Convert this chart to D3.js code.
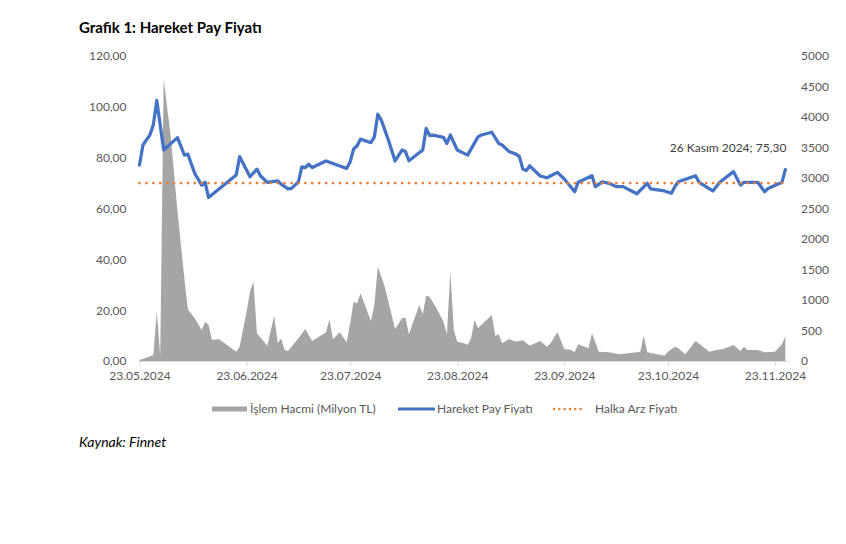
<!DOCTYPE html>
<html><head><meta charset="utf-8">
<script src="https://cdn.jsdelivr.net/npm/d3@7/dist/d3.min.js"></script>
<style>
html,body{margin:0;padding:0;background:#fff;}
svg{display:block;font-family:Lato,"Open Sans",sans-serif;}
</style></head>
<body>
<svg id="chart" width="846" height="544"></svg>
<script>
// ---- DATA ----
const priceDates = ["2024-05-23","2024-05-24","2024-05-26","2024-05-27","2024-05-28","2024-05-30","2024-06-03","2024-06-05","2024-06-06","2024-06-08","2024-06-10","2024-06-11","2024-06-12","2024-06-20","2024-06-21","2024-06-24","2024-06-26","2024-06-27","2024-06-29","2024-07-02","2024-07-03","2024-07-05","2024-07-06","2024-07-08","2024-07-09","2024-07-10","2024-07-11","2024-07-12","2024-07-16","2024-07-20","2024-07-22","2024-07-23","2024-07-24","2024-07-25","2024-07-26","2024-07-29","2024-07-30","2024-07-31","2024-08-01","2024-08-03","2024-08-05","2024-08-07","2024-08-08","2024-08-09","2024-08-13","2024-08-14","2024-08-15","2024-08-16","2024-08-19","2024-08-20","2024-08-21","2024-08-23","2024-08-26","2024-08-29","2024-08-30","2024-09-02","2024-09-04","2024-09-05","2024-09-07","2024-09-09","2024-09-10","2024-09-11","2024-09-12","2024-09-13","2024-09-16","2024-09-18","2024-09-21","2024-09-23","2024-09-26","2024-09-27","2024-10-01","2024-10-02","2024-10-04","2024-10-06","2024-10-08","2024-10-10","2024-10-14","2024-10-17","2024-10-18","2024-10-22","2024-10-24","2024-10-25","2024-10-26","2024-10-31","2024-11-01","2024-11-05","2024-11-07","2024-11-11","2024-11-13","2024-11-14","2024-11-18","2024-11-20","2024-11-21","2024-11-25","2024-11-26"];
const priceValues = [77.1,85.0,88.9,92.9,102.5,83.0,87.9,81.0,81.4,73.8,69.2,70.3,64.3,73.2,80.4,72.5,75.5,72.9,70.3,70.9,69.6,67.7,67.9,70.5,76.4,76.1,77.4,76.1,78.7,76.7,75.8,78.4,83.4,84.7,87.3,85.9,88.2,97.1,94.8,87.2,78.7,83.0,82.4,78.8,83.0,91.5,88.7,88.9,88.0,85.6,88.9,83.0,81.0,88.2,88.9,90.0,85.6,85.0,82.4,81.4,80.4,75.5,74.9,76.8,72.8,72.1,74.2,71.6,66.6,70.3,72.9,68.6,70.5,69.9,68.6,68.6,65.8,69.9,67.7,66.9,66.0,68.6,70.5,72.9,70.3,66.9,70.3,74.5,69.2,70.3,70.3,66.6,67.9,70.3,75.3];

const volumeDates = ["2024-05-23","2024-05-25","2024-05-27","2024-05-28","2024-05-29","2024-05-30","2024-06-01","2024-06-03","2024-06-05","2024-06-06","2024-06-08","2024-06-10","2024-06-11","2024-06-12","2024-06-13","2024-06-15","2024-06-20","2024-06-21","2024-06-23","2024-06-24","2024-06-25","2024-06-26","2024-06-29","2024-07-01","2024-07-02","2024-07-03","2024-07-04","2024-07-05","2024-07-08","2024-07-10","2024-07-11","2024-07-12","2024-07-16","2024-07-17","2024-07-18","2024-07-20","2024-07-22","2024-07-23","2024-07-24","2024-07-25","2024-07-26","2024-07-29","2024-07-30","2024-07-31","2024-08-02","2024-08-05","2024-08-07","2024-08-08","2024-08-09","2024-08-12","2024-08-13","2024-08-14","2024-08-15","2024-08-17","2024-08-19","2024-08-20","2024-08-21","2024-08-22","2024-08-23","2024-08-25","2024-08-26","2024-08-27","2024-08-28","2024-08-29","2024-09-02","2024-09-03","2024-09-04","2024-09-05","2024-09-07","2024-09-09","2024-09-11","2024-09-13","2024-09-16","2024-09-18","2024-09-19","2024-09-21","2024-09-23","2024-09-25","2024-09-26","2024-09-27","2024-09-30","2024-10-01","2024-10-03","2024-10-06","2024-10-09","2024-10-15","2024-10-16","2024-10-17","2024-10-22","2024-10-23","2024-10-25","2024-10-26","2024-10-28","2024-10-31","2024-11-04","2024-11-06","2024-11-08","2024-11-11","2024-11-13","2024-11-14","2024-11-15","2024-11-18","2024-11-20","2024-11-23","2024-11-25","2024-11-26"];
const volumeValues = [15,55,98,808,98,4620,3700,2450,1350,850,700,508,644,590,344,361,152,234,808,1136,1300,454,251,742,290,372,180,164,372,524,426,328,470,683,361,470,306,618,972,946,1110,656,918,1546,1218,524,700,710,438,918,765,1070,1054,864,644,438,1464,508,316,290,262,372,672,536,754,415,438,290,361,316,339,251,328,234,290,470,197,180,142,273,208,454,152,142,109,152,415,142,87,152,234,208,109,328,152,180,197,262,164,234,180,180,142,152,273,400];

const ipoPrice = 70;
const ipoDates = ["2024-05-23","2024-11-26"];
const xTickDates = ["2024-05-23","2024-06-23","2024-07-23","2024-08-23","2024-09-23","2024-10-23","2024-11-23"];
const leftTicks = [0,20,40,60,80,100,120];
const rightTicks = [0,500,1000,1500,2000,2500,3000,3500,4000,4500,5000];
const seriesNames = ["İşlem Hacmi (Milyon TL)","Hareket Pay Fiyatı","Halka Arz Fiyatı"];
const titleText = "Grafik 1: Hareket Pay Fiyatı";
const sourceText = "Kaynak: Finnet";
const annotationText = "26 Kasım 2024; 75,30";

// ---- CHART ----
const parse = d3.utcParse("%Y-%m-%d");
const svg = d3.select("#chart");
const textColor = "#595959";
const plotTop = 56, plotBottom = 361, plotLeft = 139.5, plotRight = 788;

const x = d3.scaleUtc().domain([parse("2024-05-23"), parse("2024-11-23")]).range([139.5, 775]);
const yL = d3.scaleLinear().domain([0,120]).range([plotBottom, plotTop]);
const yR = d3.scaleLinear().domain([0,5000]).range([plotBottom, plotTop]);

const price = priceDates.map((d,i)=>({date:parse(d), v:priceValues[i]}));
const volume = volumeDates.map((d,i)=>({date:parse(d), v:volumeValues[i]}));
const ipo = ipoDates.map(d=>({date:parse(d), v:ipoPrice}));

// title
svg.append("text").attr("x",79).attr("y",33).attr("font-size",15).attr("font-weight","bold")
  .attr("fill","#000").text(titleText);

// volume area
svg.append("path").datum(volume)
  .attr("fill","#A5A5A5")
  .attr("d", d3.area().x(d=>x(d.date)).y0(yR(0)).y1(d=>yR(d.v)));

// x axis line + ticks
const xAxis = d3.axisBottom(x).tickValues(xTickDates.map(parse))
  .tickFormat(d3.utcFormat("%d.%m.%Y")).tickSize(5).tickSizeOuter(0).tickPadding(5);
const gx = svg.append("g").attr("transform",`translate(0,${plotBottom})`).call(xAxis);
gx.select(".domain").attr("stroke","#D9D9D9").attr("d",`M${plotLeft-1},0.5H${plotRight+2}`);
gx.selectAll(".tick line").attr("stroke","#D9D9D9");
gx.selectAll(".tick text").attr("fill",textColor).attr("font-size",12).attr("font-family","Lato");

// left axis
const fmtL = d => d3.format(".2f")(d).replace(".",",");
const gl = svg.append("g").attr("transform",`translate(${plotLeft},0)`)
  .call(d3.axisLeft(yL).tickValues(leftTicks).tickFormat(fmtL).tickSize(0).tickPadding(13));
gl.select(".domain").remove();
gl.selectAll("text").attr("fill",textColor).attr("font-size",12).attr("font-family","Lato");

// right axis
const gr = svg.append("g").attr("transform",`translate(${plotRight},0)`)
  .call(d3.axisRight(yR).tickValues(rightTicks).tickFormat(d3.format("d")).tickSize(0).tickPadding(13));
gr.select(".domain").remove();
gr.selectAll("text").attr("fill",textColor).attr("font-size",12).attr("font-family","Lato");

// price line
svg.append("path").datum(price)
  .attr("fill","none").attr("stroke","#4472C4").attr("stroke-width",3.25)
  .attr("stroke-linejoin","round").attr("stroke-linecap","round")
  .attr("d", d3.line().x(d=>x(d.date)).y(d=>yL(d.v)));

// IPO dotted line
svg.append("path").datum(ipo)
  .attr("fill","none").attr("stroke","#ED7D31").attr("stroke-width",2.75)
  .attr("stroke-linecap","round").attr("stroke-dasharray","0.01,6.9")
  .attr("d", d3.line().x(d=>x(d.date)).y(d=>yL(d.v)));

// annotation
const last = price[price.length-1];
svg.append("text").attr("x", x(last.date)+1).attr("y", yL(last.v)-18)
  .attr("text-anchor","end").attr("font-size",12).attr("fill","#404040").text(annotationText);

// legend
const ly = 409;
const lg = svg.append("g").attr("font-size",12).attr("fill",textColor);
lg.append("rect").attr("x",212).attr("y",ly-2.5).attr("width",35).attr("height",5).attr("fill","#A5A5A5");
lg.append("text").attr("x",250).attr("y",ly+4).attr("fill",textColor).text(seriesNames[0]);
lg.append("line").attr("x1",398).attr("x2",435).attr("y1",ly).attr("y2",ly)
  .attr("stroke","#4472C4").attr("stroke-width",3);
lg.append("text").attr("x",437).attr("y",ly+4).attr("fill",textColor).text(seriesNames[1]);
lg.append("line").attr("x1",554).attr("x2",581).attr("y1",ly).attr("y2",ly)
  .attr("stroke","#ED7D31").attr("stroke-width",2.5).attr("stroke-linecap","round").attr("stroke-dasharray","0.01,5.3");
lg.append("text").attr("x",595).attr("y",ly+4).attr("fill",textColor).text(seriesNames[2]);

// source
svg.append("text").attr("x",79).attr("y",447).attr("font-size",14).attr("font-style","italic")
  .attr("fill","#000").text(sourceText);
</script>
</body></html>
